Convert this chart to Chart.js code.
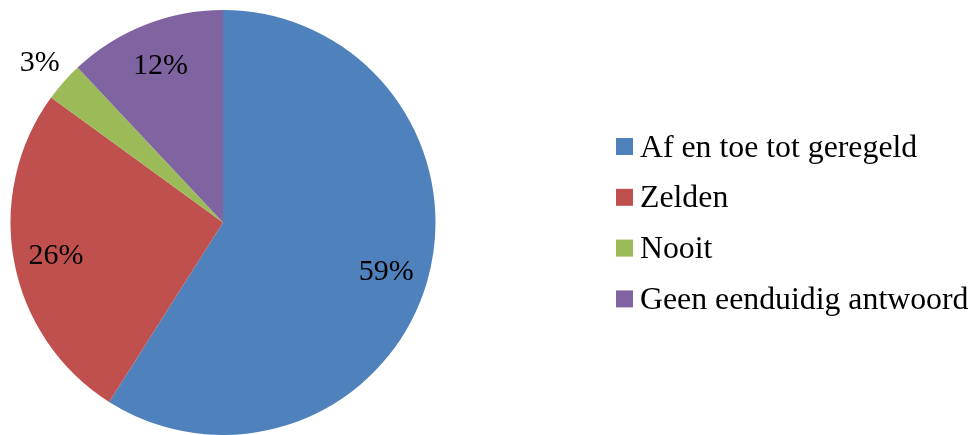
<!DOCTYPE html>
<html>
<head>
<meta charset="utf-8">
<script src="https://cdn.jsdelivr.net/npm/chart.js@4"></script>
<style>
  html, body { margin: 0; padding: 0; background: #fff; }
  #wrap { width: 974px; height: 435px; position: relative; }
</style>
</head>
<body>
<div id="wrap"><canvas id="pie"></canvas></div>
<script>
// categorieën en percentages
const categories = ['Af en toe tot geregeld', 'Zelden', 'Nooit', 'Geen eenduidig antwoord'];
const percentages = [59, 26, 3, 12];
const colors = ['#4F81BD', '#C0504D', '#9BBB59', '#8064A2'];

const fontFamily = '"Liberation Serif", "Times New Roman", serif';

// percentages in/naast de taartpunten
const sliceLabels = {
  id: 'sliceLabels',
  afterDatasetsDraw(chart) {
    const ctx = chart.ctx;
    const meta = chart.getDatasetMeta(0);
    ctx.save();
    ctx.font = '30px ' + fontFamily;
    ctx.fillStyle = '#000';
    ctx.textAlign = 'center';
    ctx.textBaseline = 'alphabetic';
    meta.data.forEach((arc, i) => {
      const mid = (arc.startAngle + arc.endAngle) / 2;
      const f = percentages[i] < 5 ? 1.15 : 0.8;
      const r = arc.outerRadius * f;
      // digit-hoogte ~0.66em, dus baseline iets onder het midden
      ctx.fillText(percentages[i] + '%', arc.x + Math.cos(mid) * r, arc.y + Math.sin(mid) * r + 10);
    });
    ctx.restore();
  }
};

// legenda rechts
const sideLegend = {
  id: 'sideLegend',
  afterDraw(chart) {
    const ctx = chart.ctx;
    ctx.save();
    ctx.font = '31.8px ' + fontFamily;
    ctx.textBaseline = 'alphabetic';
    ctx.textAlign = 'left';
    categories.forEach((c, i) => {
      const y = 146 + i * 50.8;
      ctx.fillStyle = colors[i];
      ctx.fillRect(616, y - 8, 17, 17);
      ctx.fillStyle = '#000';
      ctx.fillText(c, 640, y + 10.5);
    });
    ctx.restore();
  }
};

new Chart(document.getElementById('pie'), {
  type: 'pie',
  data: {
    labels: categories,
    datasets: [{
      data: percentages,
      backgroundColor: colors,
      borderWidth: 0
    }]
  },
  options: {
    responsive: true,
    maintainAspectRatio: false,
    animation: false,
    layout: { padding: { top: 10, bottom: 0, left: 10, right: 538 } },
    plugins: {
      legend: { display: false },
      tooltip: { enabled: false }
    }
  },
  plugins: [sliceLabels, sideLegend]
});
</script>
</body>
</html>
